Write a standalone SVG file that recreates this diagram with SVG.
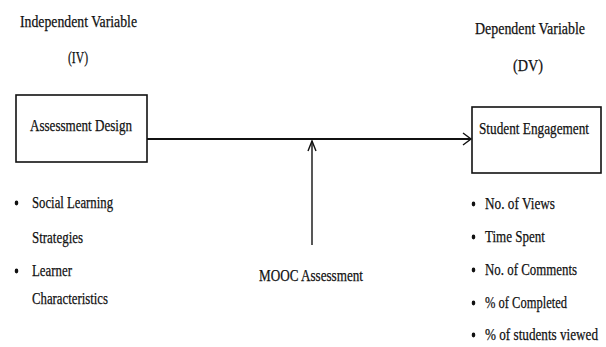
<svg xmlns="http://www.w3.org/2000/svg" width="606" height="347" viewBox="0 0 606 347">
  <style>
    text { font-family: "Liberation Serif", "Times New Roman", serif; font-size: 17px; fill: #111; stroke: #111; stroke-width: 0.25; }
    .box { fill: #fff; stroke: #111; stroke-width: 1.6; }
    .line { fill: none; stroke: #111; stroke-width: 1.8; }
    .head { fill: none; stroke: #111; stroke-width: 1.4; }
    .dot { fill: #111; }
  </style>
  <rect width="606" height="347" fill="#fff"/>

  <!-- column headings -->
  <g id="iv-heading">
    <text x="20" y="27" textLength="117" lengthAdjust="spacingAndGlyphs">Independent Variable</text>
    <text x="68" y="63" textLength="20" lengthAdjust="spacingAndGlyphs">(IV)</text>
  </g>
  <g id="dv-heading">
    <text x="475" y="34" textLength="110" lengthAdjust="spacingAndGlyphs">Dependent Variable</text>
    <text x="513" y="71" textLength="30" lengthAdjust="spacingAndGlyphs">(DV)</text>
  </g>

  <!-- connectors -->
  <g id="connectors">
    <line class="line" x1="147" y1="139" x2="471" y2="139"/>
    <polyline class="head" points="463,133 471,139 463,145"/>
    <line class="line" x1="312" y1="141" x2="312" y2="245" style="stroke-width:1.4"/>
    <polyline class="head" points="308,151 312,141 316,151"/>
  </g>

  <!-- independent variable box -->
  <g id="assessment-design">
    <rect class="box" x="16" y="95" width="131" height="67"/>
    <text x="30" y="131" textLength="102" lengthAdjust="spacingAndGlyphs">Assessment Design</text>
  </g>

  <!-- dependent variable box -->
  <g id="student-engagement">
    <rect class="box" x="472" y="107" width="129" height="66"/>
    <text x="479" y="134" textLength="110" lengthAdjust="spacingAndGlyphs">Student Engagement</text>
  </g>

  <!-- moderating factor -->
  <g id="mooc-assessment">
    <text x="259" y="281" textLength="104" lengthAdjust="spacingAndGlyphs">MOOC Assessment</text>
  </g>

  <!-- IV components -->
  <g id="iv-list">
    <ellipse class="dot" cx="16.5" cy="203" rx="1.8" ry="2.4"/>
    <text x="32" y="208" textLength="81" lengthAdjust="spacingAndGlyphs">Social Learning</text>
    <text x="32" y="243" textLength="51" lengthAdjust="spacingAndGlyphs">Strategies</text>
    <ellipse class="dot" cx="16.5" cy="271" rx="1.8" ry="2.4"/>
    <text x="32" y="276" textLength="40" lengthAdjust="spacingAndGlyphs">Learner</text>
    <text x="32" y="304" textLength="76" lengthAdjust="spacingAndGlyphs">Characteristics</text>
  </g>

  <!-- DV measures -->
  <g id="dv-list">
    <ellipse class="dot" cx="473.5" cy="204" rx="1.8" ry="2.4"/>
    <text x="485" y="209" textLength="70" lengthAdjust="spacingAndGlyphs">No. of Views</text>
    <ellipse class="dot" cx="473.5" cy="237" rx="1.8" ry="2.4"/>
    <text x="485" y="242" textLength="60" lengthAdjust="spacingAndGlyphs">Time Spent</text>
    <ellipse class="dot" cx="473.5" cy="270" rx="1.8" ry="2.4"/>
    <text x="485" y="275" textLength="92" lengthAdjust="spacingAndGlyphs">No. of Comments</text>
    <ellipse class="dot" cx="473.5" cy="303" rx="1.8" ry="2.4"/>
    <text x="485" y="308" textLength="82" lengthAdjust="spacingAndGlyphs">% of Completed</text>
    <ellipse class="dot" cx="473.5" cy="335" rx="1.8" ry="2.4"/>
    <text x="485" y="340" textLength="113" lengthAdjust="spacingAndGlyphs">% of students viewed</text>
  </g>
</svg>
